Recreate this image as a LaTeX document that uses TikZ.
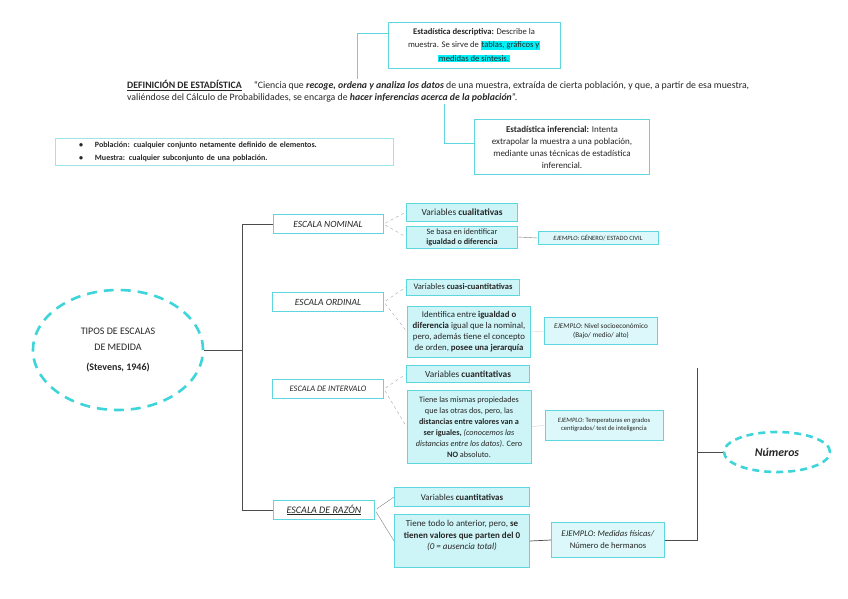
\documentclass[tikz,border=0pt]{standalone}
\usepackage{fontspec}
\setmainfont{Carlito}
\usetikzlibrary{shapes.geometric}
\definecolor{turq}{HTML}{5ED6DE}
\definecolor{turqfill}{HTML}{CDF4F7}
\definecolor{turqlight}{HTML}{DDF8FA}
\definecolor{turqdash}{HTML}{3DD5DA}
\definecolor{marcador}{HTML}{00F0F8}
\definecolor{texto}{HTML}{262626}
\newcommand{\marca}[1]{{\setlength{\fboxsep}{0.6pt}\colorbox{marcador}{#1}}}
\newcommand{\tam}[2]{\fontsize{#1}{#2}\selectfont}

\tikzset{
  caja/.style={draw=turq, line width=0.9pt, align=center, inner sep=1pt, text=texto},
  escala/.style={caja, fill=white, font=\tam{9.5}{11}\itshape, minimum height=19pt},
  varcaja/.style={caja, fill=turqfill, font=\tam{8.8}{11}},
  ejcaja/.style={caja, fill=turqlight, line width=0.7pt, font=\tam{6.5}{8}},
  elipse/.style={ellipse, draw=turqdash, line width=2.6pt, align=center, inner sep=0pt, text=texto},
  guion/.style={gray!70, dashed, thin, shorten <=2pt},
  rama/.style={black!70, line width=0.7pt},
  enlace/.style={turq, line width=0.9pt},
}

\begin{document}
\begin{tikzpicture}[x=1pt, y=-1pt]
  \useasboundingbox (0,0) rectangle (848,599);

  % definicion y tipos de estadistica
  \node[caja, fill=white, minimum width=172pt, minimum height=46pt, font=\tam{8.6}{13.5}]
    (desc) at (474,45)
    {\textbf{Estadística descriptiva:} Describe la\\
     muestra. Se sirve de \marca{tablas, gráficos y}\\
     \marca{medidas de síntesis.}};
  \node[anchor=north west, align=left, inner sep=0pt, text=texto, font=\tam{9.8}{12}]
    (defin) at (127,80)
    {\underline{\textbf{DEFINICIÓN DE ESTADÍSTICA}}\quad\ “Ciencia que \textbf{\textit{recoge, ordena y analiza los datos}} de una muestra, extraída de cierta población, y que, a partir de esa muestra,\\
     valiéndose del Cálculo de Probabilidades, se encarga de \textbf{\textit{hacer inferencias acerca de la población}}”.};
  \node[caja, fill=white, minimum width=175pt, minimum height=55pt, font=\tam{9}{12}]
    (infer) at (562,147)
    {\textbf{Estadística inferencial:} Intenta\\
     extrapolar la muestra a una población,\\
     mediante unas técnicas de estadística\\
     inferencial.};
  \coordinate (cdesc) at (357,79);
  \coordinate (cinfer) at (444,104);
  \draw[enlace] ([yshift=12pt]desc.west) -| (cdesc);
  \draw[enlace] ([yshift=4pt]infer.west) -| (cinfer);

  \node[draw=turq!60, line width=0.6pt, text width=290pt, inner xsep=24pt, inner ysep=4pt,
        align=left, text=texto, font=\tam{8}{12.5}\bfseries]
    (pobl) at (224,152)
    {\textbullet\hspace{12pt}Población: cualquier conjunto netamente definido de elementos.\\
     \textbullet\hspace{12pt}Muestra: cualquier subconjunto de una población.};

  % tipos de escalas
  \node[elipse, dash pattern=on 10pt off 7pt, minimum width=170pt, minimum height=120pt,
        font=\tam{10}{16}]
    (tipos) at (118,350)
    {TIPOS DE ESCALAS\\ DE MEDIDA\\[4pt] \textbf{(Stevens, 1946)}};

  \node[escala, minimum width=110pt] (nominal) at (328,224) {ESCALA NOMINAL};
  \node[escala, minimum width=111pt] (ordinal) at (328,302) {ESCALA ORDINAL};
  \node[escala, minimum width=111pt, font=\tam{8.4}{10}\itshape] (intervalo) at (328,389) {ESCALA DE INTERVALO};
  \node[escala, minimum width=101pt, font=\tam{10}{11}\itshape] (razon) at (324,510) {\underline{ESCALA DE RAZÓN}};

  \draw[rama] (tipos.east) -- ++(38pt,0) coordinate (bmid);
  \draw[rama] (nominal.west) -| (bmid) |- (razon.west);

  % nominal
  \node[varcaja, minimum width=111pt, minimum height=18pt, font=\tam{9.4}{11}] (nomvar) at (462,212)
    {Variables \textbf{cualitativas}};
  \node[varcaja, minimum width=111pt, minimum height=22pt, font=\tam{8.2}{10}] (nomdet) at (462,237)
    {Se basa en identificar\\ \textbf{igualdad o diferencia}};
  \node[ejcaja, minimum width=120pt, minimum height=13pt] (nomej) at (598,238)
    {\textit{EJEMPLO}: GÉNERO/ ESTADO CIVIL};
  \draw[guion] (nominal.east) -- (nomvar.west);
  \draw[guion] (nominal.east) -- (nomdet.west);
  \draw[gray, thin] (nomdet.east) -- (nomej.west);

  % ordinal
  \node[varcaja, minimum width=113pt, minimum height=16pt, font=\tam{8.5}{11}] (ordvar) at (463,287)
    {Variables \textbf{cuasi-cuantitativas}};
  \node[varcaja, minimum width=123pt, minimum height=51pt] (orddet) at (469,332)
    {Identifica entre \textbf{igualdad o}\\
     \textbf{diferencia} igual que la nominal,\\
     pero, además tiene el concepto\\
     de orden, \textbf{posee una jerarquía}};
  \node[ejcaja, minimum width=113pt, minimum height=27pt, font=\tam{7.2}{9}] (ordej) at (601,331)
    {\textit{EJEMPLO}: Nivel socioeconómico\\ (Bajo/ medio/ alto)};
  \draw[guion] (ordinal.east) -- (ordvar.west);
  \draw[guion] (ordinal.east) -- (orddet.west);
  \draw[gray!35, thin] (orddet.east) -- (ordej.west);

  % intervalo
  \node[varcaja, minimum width=123pt, minimum height=17pt, font=\tam{9.3}{11}] (intvar) at (468,374)
    {Variables \textbf{cuantitativas}};
  \node[varcaja, minimum width=124pt, minimum height=73pt, font=\tam{8.2}{11}] (intdet) at (469,427)
    {Tiene las mismas propiedades\\
     que las otras dos, pero, las\\
     \textbf{distancias entre valores van a}\\
     \textbf{ser iguales,} \textit{(conocemos las}\\
     \textit{distancias entre los datos)}. Cero\\
     \textbf{NO} absoluto.};
  \node[ejcaja, minimum width=118pt, minimum height=30pt, font=\tam{6.6}{8.5}] (intej) at (604,425)
    {\textit{EJEMPLO}: Temperaturas en grados\\ centígrados/ test de inteligencia};
  \draw[guion] (intervalo.east) -- (intvar.west);
  \draw[guion] (intervalo.east) -- (intdet.west);
  \draw[gray!35, thin] (intdet.east) -- (intej.west);

  % razon
  \node[varcaja, minimum width=135pt, minimum height=19pt, font=\tam{8.9}{11}] (razvar) at (462,497)
    {Variables \textbf{cuantitativas}};
  \node[varcaja, minimum width=135pt, minimum height=53pt, font=\tam{9}{11.5}] (razdet) at (462,541)
    {Tiene todo lo anterior, pero, \textbf{se}\\
     \textbf{tienen valores que parten del 0}\\
     \textit{(0 = ausencia total)}\\ \mbox{}};
  \node[ejcaja, minimum width=113pt, minimum height=35pt, font=\tam{8.6}{12}] (razej) at (608,540)
    {\textit{EJEMPLO: Medidas físicas/}\\ Número de hermanos};
  \draw[gray, thin, shorten <=2pt] (razon.east) -- (razvar.west);
  \draw[gray, thin, shorten <=2pt] (razon.east) -- (razdet.west);
  \draw[rama] (razdet.east) -- (razej.west);

  % numeros
  \node[elipse, dash pattern=on 7pt off 5pt, minimum width=106pt, minimum height=40pt,
        font=\tam{11.8}{13}\bfseries\itshape]
    (numeros) at (777,452) {Números};
  \coordinate (rtop) at (697,368);
  \draw[rama] (razej.east) -| (rtop);
  \draw[rama] (numeros.west) -- (numeros.west -| rtop);
\end{tikzpicture}
\end{document}
